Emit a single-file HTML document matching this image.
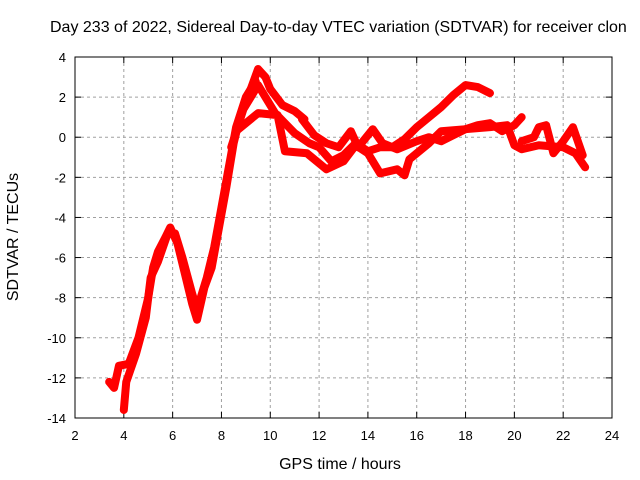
<!DOCTYPE html>
<html><head><meta charset="utf-8"><style>
body{margin:0;background:#fff}
svg{display:block;font-family:"Liberation Sans",sans-serif}
</style></head><body>
<svg id="c" width="640" height="480"></svg>
<script>
const xTicks=[2,4,6,8,10,12,14,16,18,20,22,24];
const yTicks=[4,2,0,-2,-4,-6,-8,-10,-12,-14];
const trace1=[[3.4,-12.2],[3.6,-12.5],[3.8,-11.4],[4.2,-11.3],[4.6,-10],[5.0,-8],[5.2,-6.5],[5.4,-5.7],[5.7,-5],[5.9,-4.5],[6.2,-5.3],[6.5,-6.8],[6.8,-8.3],[7.0,-9.1],[7.3,-7.5],[7.6,-6.5],[7.9,-4.5],[8.2,-2.5],[8.5,-0.3],[8.8,1.2],[9.2,2.4],[9.5,3.4],[9.8,3.0],[10.0,2.4],[10.5,1.6],[11.0,1.3],[11.4,0.9]];
const trace1b=[[4.0,-13.6],[4.1,-12.2],[4.5,-10.8],[4.9,-9],[5.1,-7],[5.4,-6.2],[5.8,-4.8],[6.1,-4.8],[6.4,-6],[6.8,-7.8],[7.0,-8.6],[7.4,-7],[7.7,-5.5],[8.0,-3.5],[8.3,-1.5],[8.6,0.5],[9.0,2.0],[9.4,2.8]];
const trace2=[[8.4,-0.5],[8.9,1.4],[9.5,2.6],[10.2,1.2],[11.0,0.2],[11.6,-0.3],[12.0,-0.5],[12.5,-1.2],[13.0,-0.9],[13.5,-0.3],[14.0,-0.7],[14.5,-0.5],[15.0,-0.5],[15.5,-0.1],[16.0,0.5],[16.5,1.0],[17.0,1.5],[17.5,2.1],[18.0,2.6],[18.5,2.5],[19.0,2.2]];
const trace3=[[8.6,0.3],[9.5,1.2],[10.3,1.1],[10.6,-0.7],[11.5,-0.8],[12.3,-1.6],[13.0,-1.2],[13.5,-0.4],[14.0,-0.8],[14.5,-1.8],[15.2,-1.6],[15.5,-1.9],[15.7,-1.1],[16.5,-0.3],[17.0,0.3],[18.0,0.4],[19.0,0.5],[19.7,0.6],[20.0,-0.4],[20.3,-0.6],[21.0,-0.4],[22.0,-0.5],[22.5,-0.8],[22.9,-1.5]];
const trace4=[[11.3,0.9],[11.8,0.1],[12.3,-0.3],[12.8,-0.5],[13.3,0.3],[13.6,-0.5],[14.2,0.4],[14.6,-0.3],[15.2,-0.6],[16.0,-0.2],[16.5,0.0],[17.0,-0.2],[17.5,0.1],[18.0,0.4],[18.5,0.6],[19.0,0.7],[19.5,0.3],[20.0,0.6],[20.3,1.0]];
const trace5=[[20.3,-0.2],[20.8,0.0],[21.0,0.5],[21.3,0.6],[21.6,-0.8],[22.0,-0.2],[22.4,0.5],[22.8,-0.9]];
const traces=[trace1,trace1b,trace2,trace3,trace4,trace5];
const L=75,R=612,T=57,B=418;
const X=v=>L+(v-2)/22*(R-L), Y=v=>T+(4-v)/18*(B-T);
const s=document.getElementById('c'),NS='http://www.w3.org/2000/svg';
function mk(t,a,txt){const e=document.createElementNS(NS,t);for(const k in a)e.setAttribute(k,a[k]);if(txt!==undefined)e.textContent=txt;s.appendChild(e);return e;}
xTicks.forEach(v=>{
 if(v>2&&v<24){const g=mk('line',{x1:X(v),x2:X(v),y1:T,y2:B,stroke:'#a0a0a0','stroke-dasharray':'3,3'});
 
 }
 mk('line',{x1:X(v),x2:X(v),y1:B,y2:B-6,stroke:'#000'});mk('line',{x1:X(v),x2:X(v),y1:T,y2:T+6,stroke:'#000'});
 const t=mk('text',{x:X(v),y:B+22,'text-anchor':'middle','font-size':13},v);
 
 
});
yTicks.forEach(v=>{
 if(v<4&&v>-14){const g=mk('line',{x1:L,x2:R,y1:Y(v),y2:Y(v),stroke:'#a0a0a0','stroke-dasharray':'3,3'});
 
 }
 mk('line',{x1:L,x2:L+6,y1:Y(v),y2:Y(v),stroke:'#000'});mk('line',{x1:R,x2:R-6,y1:Y(v),y2:Y(v),stroke:'#000'});
 const t=mk('text',{x:L-9,y:Y(v)+5,'text-anchor':'end','font-size':13},v);
 
 
});
traces.forEach(tr=>{
 const p=mk('polyline',{points:tr.map(d=>X(d[0])+','+Y(d[1])).join(' '),fill:'none',stroke:'#ff0000','stroke-width':8,'stroke-linejoin':'round','stroke-linecap':'round'});
 
 
});
const f=mk('rect',{x:L,y:T,width:R-L,height:B-T,fill:'none',stroke:'#000'});


</script>
<div style="position:absolute;left:0;top:0;width:640px;height:480px;font-family:'Liberation Sans',sans-serif">
<div style="position:absolute;left:50px;top:19px;font-size:16px;white-space:nowrap">Day 233 of 2022, Sidereal Day-to-day VTEC variation (SDTVAR) for receiver clon</div>
<div style="position:absolute;left:0;width:680px;text-align:center;top:456px;font-size:16px">GPS time / hours</div>
<div style="position:absolute;left:-86px;top:228px;width:200px;text-align:center;font-size:16px;transform:rotate(-90deg)">SDTVAR / TECUs</div>
</div>
</body></html>
